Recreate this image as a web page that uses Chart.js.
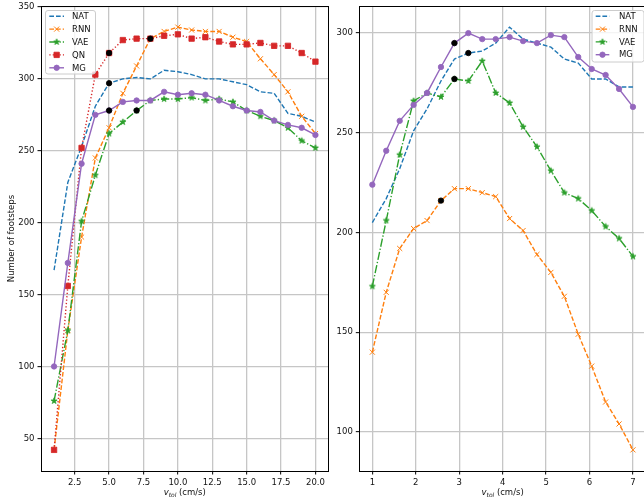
<!DOCTYPE html>
<html><head><meta charset="utf-8">
<script src="https://cdn.jsdelivr.net/npm/chart.js@4/dist/chart.umd.min.js"></script>
<style>
html,body{margin:0;padding:0;background:#fff;overflow:hidden;width:644px;height:502px;}
#w1{position:absolute;left:0;top:0;width:330px;height:502px;}
#w2{position:absolute;left:330px;top:0;width:318px;height:502px;}
canvas{display:block;}
</style></head><body>
<div id="w1"><canvas id="c1" width="330" height="502"></canvas></div>
<div id="w2"><canvas id="c2" width="318" height="502"></canvas></div>
<script>
// ---------- data (left panel) ----------
const leftX   = [1,2,3,4,5,6,7,8,9,10,11,12,13,14,15,16,17,18,19,20];
const leftNAT = [167,228,253,281,297,300,301,300,306,305,303,300,300,298,296,291,290,276,274,270];
const leftRNN = [42,125,190,245,266,290,309,328,333,336,334,333,333,329,326,314,303,291,274,262];
const leftVAE = [76,125,201,233,262,270,278,285,286,286,287,285,286,284,278,274,271,266,257,252];
const leftQN  = [42,156,252,303,318,327,328,328,330,331,328,329,326,324,324,325,323,323,318,312];
const leftMG  = [100,172,241,275,278,284,285,285,291,289,290,289,285,281,278,277,271,268,266,261];
const leftMarked = [['QN',4],['NAT',4],['MG',4],['VAE',6],['QN',7]];
const leftXTicks = [2.5,5,7.5,10,12.5,15,17.5,20];
const leftXTickLabels = ['2.5','5.0','7.5','10.0','12.5','15.0','17.5','20.0'];
const leftYTicks = [50,100,150,200,250,300,350];
const leftYTickLabels = ['50','100','150','200','250','300','350'];

// ---------- data (right panel) ----------
const rightX   = [1,1.32,1.63,1.95,2.26,2.58,2.89,3.21,3.53,3.84,4.16,4.47,4.79,5.11,5.42,5.74,6.05,6.37,6.68,7];
const rightNAT = [205,217,232,251,262,276,287,290,291,295,303,297,295,293,287,285,277,277,273,273];
const rightRNN = [140,170,192,202,206,216,222,222,220,218,207,201,189,180,168,149,133,115,104,91];
const rightVAE = [173,206,239,266,270,268,277,276,286,270,265,253,243,231,220,217,211,203,197,188];
const rightMG  = [224,241,256,264,270,283,295,300,297,297,298,296,295,299,298,288,282,279,272,263];
const rightMarked = [['MG',6],['NAT',7],['VAE',6],['RNN',5]];
const rightXTicks = [1,2,3,4,5,6,7];
const rightXTickLabels = ['1','2','3','4','5','6','7'];
const rightYTicks = [100,150,200,250,300];
const rightYTickLabels = ['100','150','200','250','300'];

// ---------- styles ----------
const FONT = 'DejaVu Sans';
const FS = 8.5;
Chart.defaults.font.family = FONT;
Chart.defaults.font.size = FS;
Chart.defaults.color = '#111';

function starCanvas(color, R){
  const size = Math.ceil(R*2+3);
  const c = document.createElement('canvas'); c.width = c.height = size;
  const g = c.getContext('2d'); const cx = size/2, cy = size/2;
  g.beginPath();
  for(let i=0;i<10;i++){
    const r = (i%2) ? R*0.382 : R;
    const a = -Math.PI/2 + i*Math.PI/5;
    g.lineTo(cx + r*Math.cos(a), cy + r*Math.sin(a));
  }
  g.closePath(); g.fillStyle = color; g.fill();
  g.strokeStyle = color; g.lineWidth = 0.8; g.lineJoin='miter'; g.stroke();
  return c;
}

const STY = {
  NAT: {color:'#1f77b4', dash:[4.7,2.0], point:'circle', r:0},
  RNN: {color:'#ff7f0e', dash:[4.7,2.0], point:'crossRot', r:3.6},
  VAE: {color:'#2ca02c', dash:[8.2,2.0,1.3,2.0], point:starCanvas('#2ca02c',3.2), r:3},
  QN:  {color:'#d62728', dash:[1.3,2.1], point:'rect', r:3.8},
  MG:  {color:'#9467bd', dash:[], point:'circle', r:2.7}
};
const ORDER = {NAT:5, RNN:4, VAE:3, QN:2, MG:1};

function mkDataset(name, xs, ys){
  const s = STY[name];
  return {
    label: name,
    data: xs.map((x,i)=>({x:x, y:ys[i]})),
    showLine: true, tension: 0, fill: false,
    borderColor: s.color, backgroundColor: s.color,
    borderWidth: 1.4, borderDash: s.dash,
    pointStyle: s.point, pointRadius: s.r, pointHoverRadius: s.r,
    pointBorderColor: s.color, pointBackgroundColor: s.color,
    pointBorderWidth: name==='RNN' ? 1 : 0.85,
    order: ORDER[name]
  };
}
function mkMarked(list, series, xs){
  return {
    label: 'marked',
    data: list.map(([n,i])=>({x: xs[i], y: series[n][i]})),
    showLine: false,
    pointStyle: 'circle', pointRadius: 2.7, pointHoverRadius: 2.7,
    pointBackgroundColor: '#000', pointBorderColor: '#000', pointBorderWidth: 0.85,
    order: 0
  };
}

function drawMarker(ctx, name, x, y){
  const s = STY[name];
  if (!s.r) return;
  ctx.save();
  ctx.fillStyle = s.color; ctx.strokeStyle = s.color; ctx.setLineDash([]);
  if (s.point === 'circle'){
    ctx.lineWidth = 0.85; ctx.beginPath(); ctx.arc(x,y,s.r,0,Math.PI*2); ctx.fill(); ctx.stroke();
  } else if (s.point === 'rect'){
    const h = s.r*Math.SQRT1_2; ctx.lineWidth = 0.85;
    ctx.beginPath(); ctx.rect(x-h,y-h,2*h,2*h); ctx.fill(); ctx.stroke();
  } else if (s.point === 'crossRot'){
    const h = s.r*Math.SQRT1_2; ctx.lineWidth = 1;
    ctx.beginPath(); ctx.moveTo(x-h,y-h); ctx.lineTo(x+h,y+h); ctx.moveTo(x+h,y-h); ctx.lineTo(x-h,y+h); ctx.stroke();
  } else {
    ctx.drawImage(s.point, x - s.point.width/2, y - s.point.height/2);
  }
  ctx.restore();
}
function roundRect(ctx,x,y,w,h,r){
  ctx.beginPath();
  ctx.moveTo(x+r,y); ctx.lineTo(x+w-r,y); ctx.quadraticCurveTo(x+w,y,x+w,y+r);
  ctx.lineTo(x+w,y+h-r); ctx.quadraticCurveTo(x+w,y+h,x+w-r,y+h);
  ctx.lineTo(x+r,y+h); ctx.quadraticCurveTo(x,y+h,x,y+h-r);
  ctx.lineTo(x,y+r); ctx.quadraticCurveTo(x,y,x+r,y); ctx.closePath();
}
const decor = {
  id: 'decor',
  afterDraw(chart, args, o){
    const ctx = chart.ctx, a = chart.chartArea;
    ctx.save();
    // frame
    ctx.strokeStyle = '#000'; ctx.lineWidth = 1; ctx.setLineDash([]);
    ctx.strokeRect(Math.round(a.left)+0.5, Math.round(a.top)+0.5, Math.round(a.right)-Math.round(a.left)-1, Math.round(a.bottom)-Math.round(a.top));
    // legend
    const L = o.legend;
    roundRect(ctx, L.x, L.y, L.w, L.h, 2.5);
    ctx.fillStyle = 'rgba(255,255,255,0.8)'; ctx.fill();
    ctx.strokeStyle = '#cccccc'; ctx.lineWidth = 1; ctx.stroke();
    ctx.font = FS + 'px "' + FONT + '"';
    ctx.textBaseline = 'middle'; ctx.textAlign = 'left';
    L.items.forEach((n,i)=>{
      const y = L.row0 + i*L.dy, s = STY[n];
      ctx.strokeStyle = s.color; ctx.lineWidth = 1.4; ctx.setLineDash(s.dash);
      ctx.beginPath(); ctx.moveTo(L.hx0, y); ctx.lineTo(L.hx1, y); ctx.stroke();
      ctx.setLineDash([]);
      drawMarker(ctx, n, (L.hx0+L.hx1)/2, y);
      ctx.fillStyle = '#111'; ctx.fillText(n, L.tx, y+0.5);
    });
    // x title: v_tol (cm/s)
    const cx = (a.left + a.right)/2, ty = o.xTitleY;
    const f1 = 'italic ' + FS + 'px "' + FONT + '"';
    const f2 = 'italic ' + (FS*0.7).toFixed(2) + 'px "' + FONT + '"';
    const f3 = FS + 'px "' + FONT + '"';
    ctx.font = f1; const w1 = ctx.measureText('v').width;
    ctx.font = f2; const w2 = ctx.measureText('tol').width;
    ctx.font = f3; const w3 = ctx.measureText(' (cm/s)').width;
    let x = cx - (w1+w2+w3)/2;
    ctx.fillStyle = '#111'; ctx.textBaseline = 'alphabetic';
    ctx.font = f1; ctx.fillText('v', x, ty); x += w1;
    ctx.font = f2; ctx.fillText('tol', x, ty+1.8); x += w2;
    ctx.font = f3; ctx.fillText(' (cm/s)', x, ty);
    // y title
    if (o.yTitle){
      ctx.save();
      ctx.translate(o.yTitleX, (a.top+a.bottom)/2);
      ctx.rotate(-Math.PI/2);
      ctx.font = f3; ctx.textAlign = 'center'; ctx.textBaseline = 'middle';
      ctx.fillText(o.yTitle, 0, 0);
      ctx.restore();
    }
    ctx.restore();
  }
};

function axisCfg(min, max, ticks, labels, fitFn){
  return {
    type: 'linear', min: min, max: max,
    afterBuildTicks: s => { s.ticks = ticks.map(v=>({value:v})); },
    afterFit: fitFn,
    grid: {color:'#c6c6c6', lineWidth:1.3, tickColor:'#000', tickLength:3.5, tickWidth:1, drawTicks:true},
    border: {display:false},
    ticks: {color:'#111', padding:3, maxRotation:0, autoSkip:false, font:{size:FS, family:FONT},
            callback: (v, i) => labels[i]}
  };
}

function makeChart(id, xs, series, names, marked, opt){
  const datasets = names.map(n => mkDataset(n, xs, series[n]));
  datasets.push(mkMarked(marked, series, xs));
  return new Chart(document.getElementById(id), {
    type: 'scatter',
    data: {datasets},
    options: {
      responsive: false, animation: false, events: [],
      layout: {padding: opt.padding, autoPadding: false},
      plugins: {legend:{display:false}, tooltip:{enabled:false}, decor: opt.decor},
      scales: {
        x: axisCfg(opt.xmin, opt.xmax, opt.xt, opt.xl, s => { s.height = 31; s.paddingLeft = 0; s.paddingRight = 0; }),
        y: axisCfg(opt.ymin, opt.ymax, opt.yt, opt.yl, s => { s.width = opt.yw; s.paddingTop = 0; s.paddingBottom = 0; })
      }
    },
    plugins: [decor]
  });
}

makeChart('c1', leftX,
  {NAT:leftNAT, RNN:leftRNN, VAE:leftVAE, QN:leftQN, MG:leftMG},
  ['NAT','RNN','VAE','QN','MG'], leftMarked,
  {padding:{left:0, top:6, right:1.5, bottom:0}, yw:41,
   xmin:0.05, xmax:20.95, ymin:27.3, ymax:350.7,
   xt:leftXTicks, xl:leftXTickLabels, yt:leftYTicks, yl:leftYTickLabels,
   decor:{legend:{x:45.5, y:10.5, w:50, h:63.5, row0:16.2, dy:12.9, hx0:49.3, hx1:64, tx:72, items:['NAT','RNN','VAE','QN','MG']},
          xTitleY:495, yTitle:'Number of footsteps', yTitleX:11.5}});

makeChart('c2', rightX,
  {NAT:rightNAT, RNN:rightRNN, VAE:rightVAE, MG:rightMG},
  ['NAT','RNN','VAE','MG'], rightMarked,
  {padding:{left:0, top:6, right:2, bottom:0}, yw:29.3,
   xmin:0.7, xmax:7.3, ymin:80.4, ymax:313.6,
   xt:rightXTicks, xl:rightXTickLabels, yt:rightYTicks, yl:rightYTickLabels,
   decor:{legend:{x:262, y:10.5, w:52, h:51.5, row0:16.3, dy:12.8, hx0:265.7, hx1:279.3, tx:289, items:['NAT','RNN','VAE','MG']},
          xTitleY:495, yTitle:null}});
</script>
</body></html>
